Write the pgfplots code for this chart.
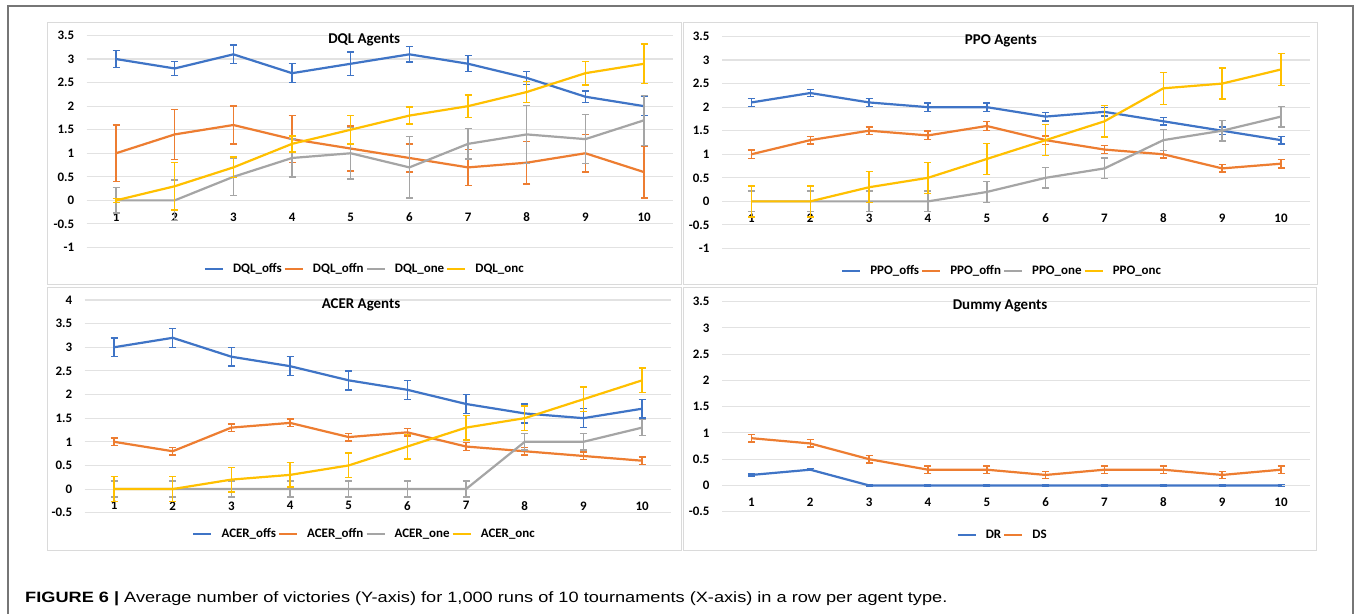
\documentclass[border=0pt]{standalone}
\usepackage{fontspec}
\setmainfont{Carlito}
\newfontfamily\capfont{Liberation Sans}
\usepackage{pgfplots}
\usepackage{pgfplotstable}
\pgfplotsset{compat=1.18}
\definecolor{xblue}{HTML}{3F74C6}
\definecolor{xorange}{HTML}{ED7D31}
\definecolor{xgray}{HTML}{A5A5A5}
\definecolor{xgold}{HTML}{FFC000}
\definecolor{gridc}{HTML}{E2E2E2}
\definecolor{panelc}{HTML}{DADADA}
\definecolor{framec}{HTML}{767676}

\pgfplotstableread{
x offs offse offn offne one onee onc once
1 3.0 0.18 1.0 0.60 0.0 0.27 0.0 0.04
2 2.8 0.15 1.4 0.53 0.0 0.43 0.3 0.50
3 3.1 0.20 1.6 0.40 0.5 0.40 0.7 0.22
4 2.7 0.20 1.3 0.50 0.9 0.40 1.2 0.17
5 2.9 0.25 1.1 0.48 1.0 0.55 1.5 0.30
6 3.1 0.16 0.9 0.30 0.7 0.65 1.8 0.18
7 2.9 0.17 0.7 0.38 1.2 0.32 2.0 0.24
8 2.6 0.14 0.8 0.45 1.4 0.62 2.3 0.22
9 2.2 0.12 1.0 0.40 1.3 0.52 2.7 0.25
10 2.0 0.20 0.6 0.55 1.7 0.53 2.9 0.42
}\dql
\pgfplotstableread{
x offs offse offn offne one onee onc once
1 2.1 0.08 1.0 0.09 0.0 0.22 0.0 0.33
2 2.3 0.08 1.3 0.08 0.0 0.22 0.0 0.33
3 2.1 0.08 1.5 0.08 0.0 0.22 0.3 0.33
4 2.0 0.09 1.4 0.09 0.0 0.22 0.5 0.33
5 2.0 0.09 1.6 0.09 0.2 0.22 0.9 0.33
6 1.8 0.09 1.3 0.09 0.5 0.22 1.3 0.33
7 1.9 0.09 1.1 0.09 0.7 0.22 1.7 0.33
8 1.7 0.08 1.0 0.08 1.3 0.22 2.4 0.34
9 1.5 0.08 0.7 0.08 1.5 0.22 2.5 0.33
10 1.3 0.08 0.8 0.09 1.8 0.22 2.8 0.34
}\ppo
\pgfplotstableread{
x offs offse offn offne one onee onc once
1 3.0 0.2 1.0 0.08 0.0 0.17 0.0 0.26
2 3.2 0.2 0.8 0.08 0.0 0.17 0.0 0.26
3 2.8 0.2 1.3 0.08 0.0 0.17 0.2 0.26
4 2.6 0.2 1.4 0.08 0.0 0.17 0.3 0.26
5 2.3 0.2 1.1 0.08 0.0 0.17 0.5 0.26
6 2.1 0.2 1.2 0.08 0.0 0.17 0.9 0.26
7 1.8 0.2 0.9 0.08 0.0 0.17 1.3 0.26
8 1.6 0.2 0.8 0.08 1.0 0.17 1.5 0.26
9 1.5 0.2 0.7 0.08 1.0 0.17 1.9 0.26
10 1.7 0.2 0.6 0.08 1.3 0.17 2.3 0.26
}\acer
\pgfplotstableread{
x dr dre ds dse
1 0.2 0.02 0.9 0.07
2 0.3 0.02 0.8 0.07
3 0.0 0.02 0.5 0.07
4 0.0 0.02 0.3 0.07
5 0.0 0.02 0.3 0.07
6 0.0 0.02 0.2 0.07
7 0.0 0.02 0.3 0.07
8 0.0 0.02 0.3 0.07
9 0.0 0.02 0.2 0.07
10 0.0 0.02 0.3 0.07
}\dummy

\pgfplotsset{
 excel/.style={
  scale only axis,
  axis x line=middle, axis y line=left,
  x axis line style={draw=none}, y axis line style={draw=none},
  hide obscured x ticks=false, hide obscured y ticks=false,
  xmin=0.5, xmax=10.5, xtick={1,...,10},
  xticklabels={1,2,3,4,5,6,7,8,9,10},
  ymajorgrids, grid style={color=gridc, line width=1.1bp},
  major tick length=0pt,
  tick label style={font=\fontsize{13}{15}\selectfont\bfseries, text=black},
  xticklabel style={yshift=-9bp},
  yticklabel style={xshift=-9bp},
  title style={font=\fontsize{15}{17}\selectfont\bfseries, anchor=center, yshift=-6pt},
  legend style={draw=none, fill=none, legend columns=-1, anchor=center,
    font=\fontsize{13}{15}\selectfont\bfseries,
    /tikz/every odd column/.append style={column sep=7bp}},
  legend image code/.code={\draw[##1, line width=2.2bp] (0bp,0bp) -- (18bp,0bp);},
  every axis plot/.append style={line width=2.2bp},
  no markers,
  error bars/y dir=both, error bars/y explicit,
  error bars/error bar style={line width=1.4bp},
  error bars/error mark options={rotate=90, mark size=3.5bp, line width=1.4bp},
 }
}

\begin{document}
\begin{tikzpicture}[x=1bp,y=1bp]
\path[use as bounding box] (0,0) rectangle (1356,614);
\fill[white] (0,0) rectangle (1356,614);
\draw[framec, line width=1.6bp] (8,-2) -- (8,608) -- (1353,608) -- (1353,-2);
\draw[panelc, line width=1bp] (47,329) rectangle (681,591);
\draw[panelc, line width=1bp] (683,329) rectangle (1317,591);
\draw[panelc, line width=1bp] (47,63) rectangle (681,326);
\draw[panelc, line width=1bp] (683,63) rectangle (1316,326);

% DQL
\begin{axis}[excel, at={(86.7bp,366.5bp)}, anchor=south west,
  width=586.7bp, height=212bp, ymin=-1, ymax=3.5,
  ytick={-1,-0.5,0,0.5,1,1.5,2,2.5,3,3.5},
  yticklabels={-1,-0.5,0,0.5,1,1.5,2,2.5,3,3.5},
  title={DQL Agents}, title style={at={(0.473,0.979)}},
  legend style={at={(0.474,-0.101)}}]
\addplot[xblue] table[x=x,y=offs,y error=offse]{\dql};
\addplot[xorange] table[x=x,y=offn,y error=offne]{\dql};
\addplot[xgray] table[x=x,y=one,y error=onee]{\dql};
\addplot[xgold] table[x=x,y=onc,y error=once]{\dql};
\legend{DQL\_offs,DQL\_offn,DQL\_one,DQL\_onc}
\end{axis}

% PPO
\begin{axis}[excel, at={(722bp,365.5bp)}, anchor=south west,
  width=588.4bp, height=212bp, ymin=-1, ymax=3.5,
  ytick={-1,-0.5,0,0.5,1,1.5,2,2.5,3,3.5},
  yticklabels={-1,-0.5,0,0.5,1,1.5,2,2.5,3,3.5},
  title={PPO Agents}, title style={at={(0.474,0.979)}},
  legend style={at={(0.476,-0.105)}}]
\addplot[xblue] table[x=x,y=offs,y error=offse]{\ppo};
\addplot[xorange] table[x=x,y=offn,y error=offne]{\ppo};
\addplot[xgray] table[x=x,y=one,y error=onee]{\ppo};
\addplot[xgold] table[x=x,y=onc,y error=once]{\ppo};
\legend{PPO\_offs,PPO\_offn,PPO\_one,PPO\_onc}
\end{axis}

% ACER
\begin{axis}[excel, at={(84.7bp,101.3bp)}, anchor=south west,
  width=586.7bp, height=212.7bp, ymin=-0.5, ymax=4,
  ytick={-0.5,0,0.5,1,1.5,2,2.5,3,3.5,4},
  yticklabels={-0.5,0,0.5,1,1.5,2,2.5,3,3.5,4},
  title={ACER Agents}, title style={at={(0.471,0.976)}},
  legend style={at={(0.477,-0.100)}}]
\addplot[xblue] table[x=x,y=offs,y error=offse]{\acer};
\addplot[xorange] table[x=x,y=offn,y error=offne]{\acer};
\addplot[xgray] table[x=x,y=one,y error=onee]{\acer};
\addplot[xgold] table[x=x,y=onc,y error=once]{\acer};
\legend{ACER\_offs,ACER\_offn,ACER\_one,ACER\_onc}
\end{axis}

% Dummy
\begin{axis}[excel, at={(722bp,102.3bp)}, anchor=south west,
  width=588.4bp, height=210bp, ymin=-0.5, ymax=3.5,
  ytick={-0.5,0,0.5,1,1.5,2,2.5,3,3.5},
  yticklabels={-0.5,0,0.5,1,1.5,2,2.5,3,3.5},
  title={Dummy Agents}, title style={at={(0.4725,0.981)}},
  legend style={at={(0.477,-0.111)}}]
\addplot[xblue] table[x=x,y=dr,y error=dre]{\dummy};
\addplot[xorange] table[x=x,y=ds,y error=dse]{\dummy};
\legend{DR,DS}
\end{axis}

\node[anchor=base west, inner sep=0pt, xscale=1.216] at (25,11.5)
 {\capfont\fontsize{15}{18}\selectfont\textbf{FIGURE 6 |} Average number of victories (Y-axis) for 1,000 runs of 10 tournaments (X-axis) in a row per agent type.};
\end{tikzpicture}
\end{document}
